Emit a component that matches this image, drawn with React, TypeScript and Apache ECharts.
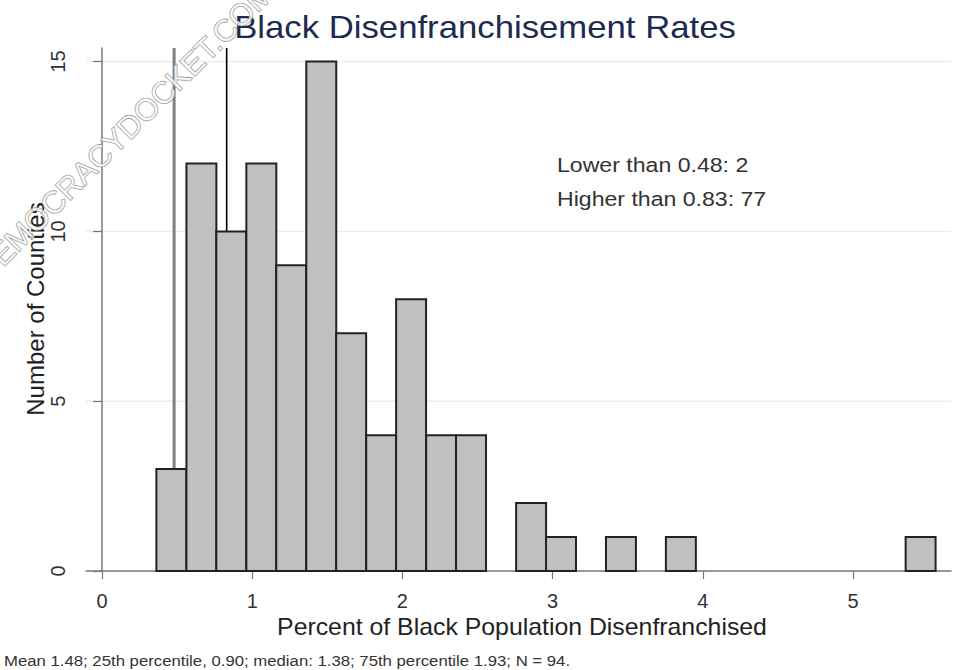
import React, { useEffect, useRef } from "react";
import * as echarts from "echarts";

// Histogram bins (lower edge, in percent) and counts of counties
const binLower = [0.362, 0.562, 0.761, 0.961, 1.16, 1.36, 1.559, 1.759, 1.958, 2.158, 2.357, 2.757, 2.956, 3.355, 3.754, 5.35];
const binCounts = [3, 12, 10, 12, 9, 15, 7, 4, 8, 4, 4, 2, 1, 1, 1, 1];
const binWidth = 0.1995;

// Threshold reference lines
const thresholds = [0.48, 0.83];
const thresholdColors = ["#808080", "#000000"];

const xTicks = [0, 1, 2, 3, 4, 5];
const yTicks = [0, 5, 10, 15];
const gridValues = [5, 10, 15];

const titleText = "Black Disenfranchisement Rates";
const xName = "Percent of Black Population Disenfranchised";
const yName = "Number of Counties";
const annotLines = ["Lower than 0.48: 2", "Higher than 0.83: 77"];
const footnote = "Mean 1.48; 25th percentile, 0.90; median: 1.38; 75th percentile 1.93; N = 94.";
const watermark = "DEMOCRACYDOCKET.COM";

const FONT = "'Liberation Sans', Arial, Helvetica, sans-serif";

export default function App() {
  const ref = useRef<HTMLDivElement>(null);
  useEffect(() => {
    if (!ref.current) return;
    const chart = echarts.init(ref.current, undefined, { renderer: "svg" });
    const barData = binLower.map((lo, i) => [lo, lo + binWidth, binCounts[i]]);
    const option: any = {
      animation: false,
      backgroundColor: "#ffffff",
      grid: { left: 86, right: 10, top: 48, bottom: 99 },
      xAxis: {
        type: "value",
        min: -0.1065,
        max: 5.652,
        axisLine: { show: true, lineStyle: { color: "#777", width: 1.5 } },
        axisTick: { show: true, length: 8, customValues: xTicks, lineStyle: { color: "#777", width: 1.2 } },
        axisLabel: { customValues: xTicks, margin: 20, fontSize: 20, color: "#333", fontFamily: FONT },
        splitLine: { show: false },
      },
      yAxis: {
        type: "value",
        min: 0,
        max: 15.4,
        axisLine: { show: true, lineStyle: { color: "#777", width: 1.5 } },
        axisTick: { show: true, length: 9, customValues: yTicks, lineStyle: { color: "#777", width: 1.2 } },
        axisLabel: { customValues: yTicks, rotate: 90, margin: 18, fontSize: 20, color: "#333", fontFamily: FONT },
        splitLine: { show: false },
      },
      series: [
        {
          type: "custom",
          z: 0,
          silent: true,
          data: gridValues.map((v) => [v]),
          renderItem: (params: any, api: any) => {
            const cs = params.coordSys;
            const y = api.coord([0, api.value(0)])[1];
            return {
              type: "line",
              shape: { x1: cs.x, y1: y, x2: cs.x + cs.width, y2: y },
              style: { stroke: "#ececec", lineWidth: 1.5 },
            };
          },
        },
        {
          type: "custom",
          z: 1,
          silent: true,
          data: thresholds.map((t, i) => [t, i]),
          renderItem: (params: any, api: any) => {
            const cs = params.coordSys;
            const i = api.value(1);
            const x = api.coord([api.value(0), 0])[0];
            return {
              type: "line",
              shape: { x1: x, y1: cs.y, x2: x, y2: cs.y + cs.height },
              style: { stroke: thresholdColors[i], lineWidth: i === 0 ? 3 : 1.6 },
            };
          },
        },
        {
          type: "custom",
          z: 2,
          data: barData,
          renderItem: (params: any, api: any) => {
            const p0 = api.coord([api.value(0), api.value(2)]);
            const p1 = api.coord([api.value(1), 0]);
            return {
              type: "rect",
              shape: { x: p0[0], y: p0[1], width: p1[0] - p0[0], height: p1[1] - p0[1] },
              style: { fill: "#c0c0c0", stroke: "#222", lineWidth: 2 },
            };
          },
        },
      ],
      graphic: [
        {
          type: "text",
          x: 485,
          y: 27,
          scaleX: 1.12,
          style: { text: titleText, fontSize: 31, fill: "#1c2b4f", textAlign: "center", textVerticalAlign: "middle", fontFamily: FONT },
        },
        {
          type: "text",
          x: 557,
          y: 165,
          scaleX: 1.1,
          style: { text: annotLines[0], fontSize: 21, fill: "#333", textAlign: "left", textVerticalAlign: "middle", fontFamily: FONT },
        },
        {
          type: "text",
          x: 557,
          y: 199,
          scaleX: 1.1,
          style: { text: annotLines[1], fontSize: 21, fill: "#333", textAlign: "left", textVerticalAlign: "middle", fontFamily: FONT },
        },
        {
          type: "text",
          x: 522,
          y: 627,
          scaleX: 1.08,
          style: { text: xName, fontSize: 23, fill: "#222", textAlign: "center", textVerticalAlign: "middle", fontFamily: FONT },
        },
        {
          type: "text",
          x: 35,
          y: 309,
          rotation: Math.PI / 2,
          style: { text: yName, fontSize: 24, fill: "#222", textAlign: "center", textVerticalAlign: "middle", fontFamily: FONT },
        },
        {
          type: "text",
          x: 4,
          y: 660,
          scaleX: 1.08,
          style: { text: footnote, fontSize: 15.5, fill: "#333", textAlign: "left", textVerticalAlign: "middle", fontFamily: FONT },
        },
        {
          type: "text",
          x: 124,
          y: 132,
          z: 100,
          rotation: Math.PI / 4,
          style: {
            text: watermark,
            fontSize: 31,
            fill: "rgba(255,255,255,0.75)",
            stroke: "#8c8c8c",
            lineWidth: 1.1,
            textAlign: "center",
            textVerticalAlign: "middle",
            fontFamily: FONT,
          },
        },
      ],
    };
    chart.setOption(option);
    return () => chart.dispose();
  }, []);
  return <div ref={ref} style={{ position: "fixed", left: 0, top: 0, width: 961, height: 670 }} />;
}
